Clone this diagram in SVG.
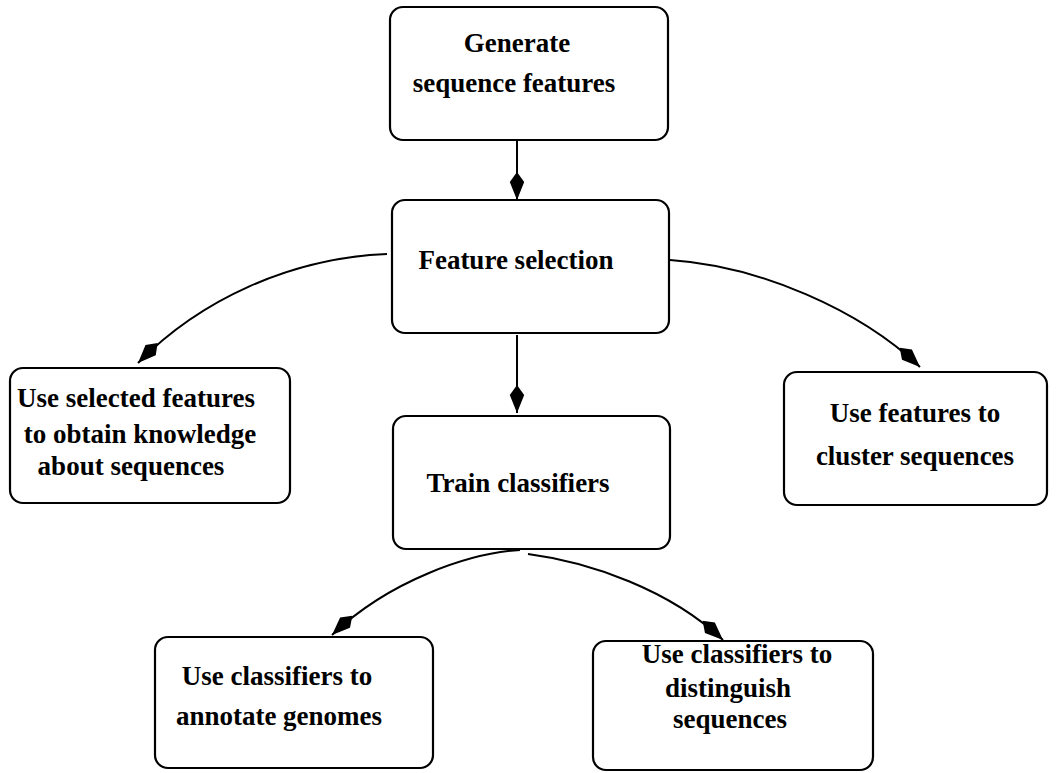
<svg xmlns="http://www.w3.org/2000/svg" width="1057" height="773" viewBox="0 0 1057 773">
  <style>
    .box { fill: #ffffff; stroke: #000000; stroke-width: 2.2; }
    .label { font-family: "Liberation Serif", "Times New Roman", serif; font-weight: bold; font-size: 27px; fill: #000000; text-anchor: middle; }
    .link { fill: none; stroke: #000000; stroke-width: 2; marker-end: url(#kite); }
  </style>
  <defs>
    <!-- kite-shaped arrowhead -->
    <marker id="kite" markerUnits="userSpaceOnUse" viewBox="0 0 28 16" markerWidth="28" markerHeight="16" refX="28" refY="8" orient="auto">
      <path d="M0,8 L10,0.8 L28,8 L10,15.2 Z" fill="#000000"/>
    </marker>
  </defs>
  <rect width="1057" height="773" fill="#ffffff"/>

  <g id="connectors">
    <path class="link" d="M517,141 L517,200"/>
    <path class="link" d="M517,335 L517,413"/>
    <path class="link" d="M387,254 C290,258 200,300 138,363"/>
    <path class="link" d="M670,260 C760,266 860,310 920,367"/>
    <path class="link" d="M520,550 C470,553 390,580 332,635"/>
    <path class="link" d="M528,554 C590,562 670,590 723,640"/>
  </g>

  <g id="generate">
    <rect class="box" x="390" y="7" width="278" height="133" rx="13"/>
    <text class="label" x="517" y="52">Generate</text>
    <text class="label" x="514" y="92">sequence features</text>
  </g>

  <g id="feature-selection">
    <rect class="box" x="392" y="200" width="277" height="133" rx="13"/>
    <text class="label" x="516" y="269">Feature selection</text>
  </g>

  <g id="train">
    <rect class="box" x="393" y="416" width="277" height="133" rx="13"/>
    <text class="label" x="518" y="492">Train classifiers</text>
  </g>

  <g id="knowledge">
    <rect class="box" x="10" y="368" width="280" height="135" rx="13"/>
    <text class="label" x="136" y="407">Use selected features</text>
    <text class="label" x="140" y="443">to obtain knowledge</text>
    <text class="label" x="131" y="475">about sequences</text>
  </g>

  <g id="cluster">
    <rect class="box" x="784" y="372" width="263" height="133" rx="13"/>
    <text class="label" x="915" y="422">Use features to</text>
    <text class="label" x="915" y="465">cluster sequences</text>
  </g>

  <g id="annotate">
    <rect class="box" x="155" y="637" width="278" height="131" rx="13"/>
    <text class="label" x="277" y="685">Use classifiers to</text>
    <text class="label" x="279" y="725">annotate genomes</text>
  </g>

  <g id="distinguish">
    <rect class="box" x="593" y="641" width="280" height="129" rx="13"/>
    <text class="label" x="737" y="663">Use classifiers to</text>
    <text class="label" x="728" y="697">distinguish</text>
    <text class="label" x="730" y="728">sequences</text>
  </g>
</svg>
